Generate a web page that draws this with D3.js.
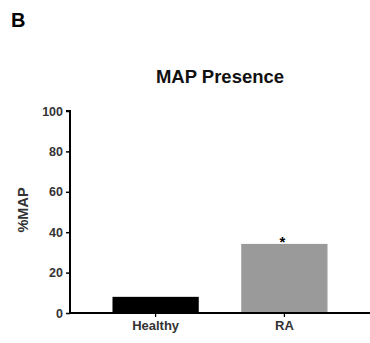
<!DOCTYPE html>
<html><head><meta charset="utf-8">
<script src="https://cdn.jsdelivr.net/npm/d3@7"></script>
<style>body{margin:0;background:#fff}svg{display:block;font-family:"Liberation Sans",Arial,sans-serif}</style>
</head><body>
<script>
const categories = ["Healthy", "RA"];
const values = [8, 34.2];
const barColors = ["#000000", "#9a9a9a"];
const yTicks = [0, 20, 40, 60, 80, 100];
const significance = ["", "*"];

const W = 370, H = 343;
const svg = d3.select("body").append("svg").attr("width", W).attr("height", H);
const y = d3.scaleLinear().domain([0, 100]).range([313, 111]);
const x = d3.scaleBand().domain(categories).range([70, 370]).paddingInner(0.33).paddingOuter(0.33);

svg.append("text").attr("x", 11).attr("y", 26.5).attr("font-size", 20).attr("font-weight", "bold").text("B");
svg.append("text").attr("x", 220).attr("y", 83).attr("text-anchor", "middle").attr("font-size", 18.5).attr("font-weight", "bold").attr("fill", "#111").text("MAP Presence");

svg.selectAll("rect.bar").data(categories).enter().append("rect").attr("class", "bar")
  .attr("x", d => x(d)).attr("width", x.bandwidth())
  .attr("y", (d, i) => y(values[i])).attr("height", (d, i) => y(0) - y(values[i]))
  .attr("fill", (d, i) => barColors[i]);

svg.selectAll("text.sig").data(categories).enter().append("text").attr("class", "sig")
  .attr("x", d => x(d) + x.bandwidth() / 2 - 2).attr("y", (d, i) => y(values[i]) + 3)
  .attr("text-anchor", "middle").attr("font-size", 15).attr("font-weight", "bold")
  .text((d, i) => significance[i]);

const ya = svg.append("g").attr("transform", "translate(70,0)")
  .call(d3.axisLeft(y).tickValues(yTicks).tickSize(4).tickPadding(3));
ya.select(".domain").attr("stroke-width", 2).attr("d", "M-4," + y(100) + "H0V" + y(0));
ya.selectAll(".tick line").attr("stroke-width", 1.5);
ya.selectAll(".tick text").attr("font-size", 12.5).attr("font-weight", "bold").attr("fill", "#333");

const xa = svg.append("g").attr("transform", "translate(0,313)")
  .call(d3.axisBottom(x).tickSize(4).tickPadding(4));
xa.select(".domain").attr("stroke-width", 2).attr("d", "M70,0H370");
xa.selectAll(".tick line").attr("stroke-width", 1.2);
xa.selectAll(".tick text").attr("font-size", 13).attr("font-weight", "bold").attr("fill", "#333");

svg.append("text").attr("transform", "translate(28,210) rotate(-90)").attr("text-anchor", "middle")
  .attr("font-size", 14.5).attr("font-weight", "bold").attr("fill", "#333").text("%MAP");
</script>
</body></html>
